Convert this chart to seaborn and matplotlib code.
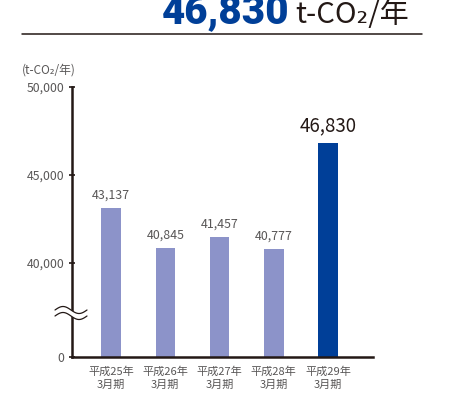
import numpy as np
import matplotlib
matplotlib.use("Agg")
import matplotlib.pyplot as plt
import seaborn as sns

categories = ["平成25年\n3月期", "平成26年\n3月期", "平成27年\n3月期", "平成28年\n3月期", "平成29年\n3月期"]
values = [43137, 40845, 41457, 40777, 46830]
value_labels = ["43,137", "40,845", "41,457", "40,777", "46,830"]
ytick_values = [0, 40000, 45000, 50000]
ytick_labels = ["0", "40,000", "45,000", "50,000"]
headline_value = "46,830"
headline_unit = "t-CO₂/年"
unit_label = "(t-CO₂/年)"

sns.set_theme(style="white")
plt.rcParams['font.family'] = ['Noto Sans CJK JP', 'DejaVu Sans']

LIGHT = "#8C93C9"
DARK = "#003F98"
INK = "#231815"
GRAY = "#595757"

fig = plt.figure(figsize=(4.55, 3.94), dpi=100)
ax = fig.add_axes([72/455, 1-357/394, (373-72)/455, (357-87)/394])

K = 5341.0
def fwd(v):
    v = np.asarray(v, dtype=float)
    return np.where(v >= 40000, v - 40000 + K, v * K / 40000)
def inv(u):
    u = np.asarray(u, dtype=float)
    return np.where(u >= K, u - K + 40000, u * 40000 / K)

ax.set_yscale('function', functions=(fwd, inv))

palette = [LIGHT, LIGHT, LIGHT, LIGHT, DARK]
sns.barplot(x=categories, y=values, hue=categories, palette=palette, legend=False,
            width=0.36, ax=ax, saturation=1, linewidth=0)

ax.set_ylim(0, 50000)
ax.set_xlim(-0.72, 4.83)
ax.set_yticks(ytick_values)
ax.set_yticklabels(ytick_labels)
ax.tick_params(axis='y', direction='inout', length=5, width=1.2, color=INK,
               labelsize=8.8, labelcolor=GRAY, pad=3, left=True)
ax.tick_params(axis='x', length=0, labelsize=8, labelcolor=GRAY, pad=7)
for lab in ax.get_xticklabels():
    lab.set_linespacing(1.35)
ax.minorticks_off()

for s in ['top', 'right']:
    ax.spines[s].set_visible(False)
for s in ['left', 'bottom']:
    ax.spines[s].set_color(INK)
    ax.spines[s].set_linewidth(1.8)
ax.set_xlabel("")
ax.set_ylabel("")

# value labels
for cont in ax.containers:
    for bar in cont:
        h = bar.get_height()
        if h == 0 or np.isnan(h):
            continue
        xc = bar.get_x() + bar.get_width() / 2
        i = int(round(xc))
        big = (i == 4)
        ax.annotate(value_labels[i], (xc, h), xytext=(0, 5 if big else 4.5),
                    textcoords='offset points', ha='center', va='bottom',
                    fontsize=13.5 if big else 8.9, color=INK if big else GRAY)

# axis break wave
tt = np.linspace(0, 1, 60)
xs = 55 + tt * 32
w1 = 310 - 3.5 * np.sin(2 * np.pi * tt)
w2 = w1 + 6
fig_h = 394.0
fig_w = 455.0
poly_x = np.concatenate([xs, xs[::-1]]) / fig_w
poly_y = 1 - np.concatenate([w1, w2[::-1]]) / fig_h
fig.patches.append(plt.Polygon(np.column_stack([poly_x, poly_y]), closed=True,
                               facecolor='white', edgecolor='none',
                               transform=fig.transFigure, zorder=5))
for w in (w1, w2):
    fig.lines.append(plt.Line2D(xs / fig_w, 1 - w / fig_h, color=INK, lw=0.9,
                                transform=fig.transFigure, zorder=6))

# unit label
fig.text(22/455, 1-70/394, unit_label, fontsize=8.5, color=GRAY, ha='left', va='center')

# headline
fig.text(289/455, 1-23/394, headline_value, fontsize=29, fontweight='heavy',
         color=DARK, ha='right', va='baseline', family=['Roboto', 'DejaVu Sans'])
fig.text(295/455, 1-23/394, headline_unit, fontsize=21, color=INK,
         ha='left', va='baseline')
fig.lines.append(plt.Line2D([22/455, 422/455], [1-34/394, 1-34/394], color=INK,
                            lw=1.1, transform=fig.transFigure))

fig.savefig("out.png", dpi=100)
